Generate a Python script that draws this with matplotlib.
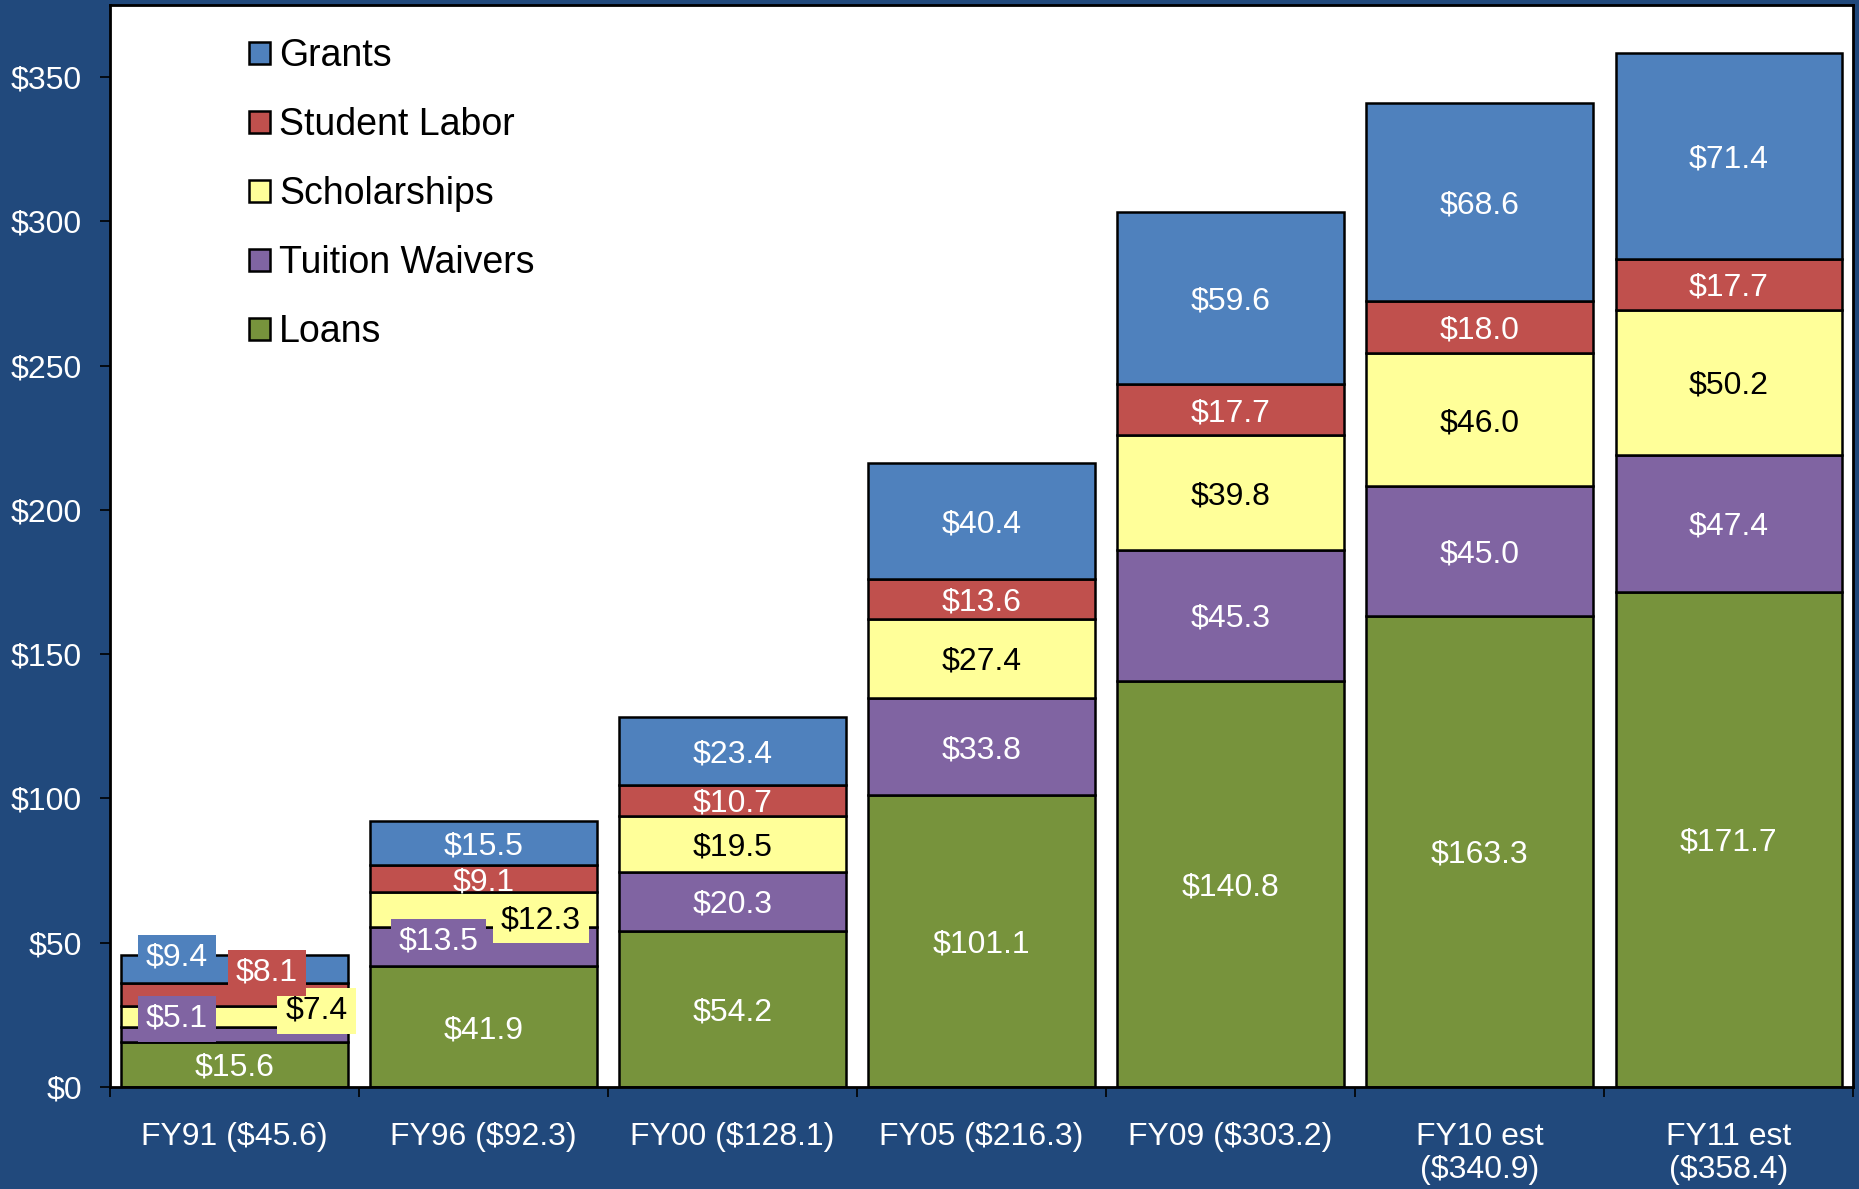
import matplotlib.pyplot as plt
from matplotlib.patches import Patch
import numpy as np

plt.rcParams["font.family"] = ["Liberation Sans", "DejaVu Sans"]

categories = [
    "FY91 ($45.6)",
    "FY96 ($92.3)",
    "FY00 ($128.1)",
    "FY05 ($216.3)",
    "FY09 ($303.2)",
    "FY10 est\n($340.9)",
    "FY11 est\n($358.4)",
]

# stacked from bottom to top
loans = [15.6, 41.9, 54.2, 101.1, 140.8, 163.3, 171.7]
waivers = [5.1, 13.5, 20.3, 33.8, 45.3, 45.0, 47.4]
scholarships = [7.4, 12.3, 19.5, 27.4, 39.8, 46.0, 50.2]
labor = [8.1, 9.1, 10.7, 13.6, 17.7, 18.0, 17.7]
grants = [9.4, 15.5, 23.4, 40.4, 59.6, 68.6, 71.4]

series_names = ["Loans", "Tuition Waivers", "Scholarships", "Student Labor", "Grants"]
series_values = [loans, waivers, scholarships, labor, grants]
series_colors = ["#77933C", "#8064A2", "#FFFF99", "#C0504D", "#4F81BD"]
label_colors = ["white", "white", "black", "white", "white"]

yticks = [0, 50, 100, 150, 200, 250, 300, 350]

BG = "#21497C"
FS = 23

# labels that sit off-centre in a box (small bars): (series, category) -> (dx, y)
moved_labels = {
    (4, 0): (-0.23, 46.0),
    (3, 0): (0.13, 40.8),
    (1, 0): (-0.23, 24.9),
    (2, 0): (0.33, 27.7),
    (1, 1): (-0.18, 51.6),
    (2, 1): (0.23, 59.0),
}


def main():
    fig = plt.figure(figsize=(18.59, 11.89), dpi=100, facecolor=BG)
    ax = fig.add_axes([0.059, 0.0858, 0.938, 0.910])
    ax.set_facecolor("white")

    x = np.arange(len(categories))
    width = 0.91
    bottom = np.zeros(len(categories))
    bars_by_series = []
    for vals, color in zip(series_values, series_colors):
        bars = ax.bar(
            x, vals, width, bottom=bottom, color=color,
            edgecolor="black", linewidth=1.8, zorder=2,
        )
        bars_by_series.append((bars, bottom.copy()))
        bottom += np.array(vals)

    for s, (bars, bots) in enumerate(bars_by_series):
        vals = series_values[s]
        for i, (rect, b, v) in enumerate(zip(bars, bots, vals)):
            key = (s, i)
            if key in moved_labels:
                dx, yy = moved_labels[key]
                ax.text(
                    i + dx, yy, f"${v:.1f}", ha="center", va="center_baseline",
                    fontsize=FS, color=label_colors[s], zorder=5,
                    bbox=dict(boxstyle="square,pad=0.25",
                              facecolor=series_colors[s], edgecolor="none"),
                )
            else:
                t = ax.text(
                    i, b + v / 2, f"${v:.1f}", ha="center", va="center_baseline",
                    fontsize=FS, color=label_colors[s], zorder=4,
                )
                if s == 3 and i == 1:
                    # $9.1 is partly hidden by the scholarship segment below
                    t.set_clip_path(rect)

    ax.set_xlim(-0.5, len(categories) - 0.5)
    ax.set_ylim(0, 375)

    ax.set_yticks(yticks)
    ax.set_yticklabels([f"${v}" for v in yticks])
    ax.tick_params(axis="y", colors="black", labelcolor="white",
                   labelsize=FS, length=7, width=1.2, pad=13)

    ax.set_xticks(np.arange(len(categories) + 1) - 0.5)
    ax.set_xticklabels([])
    ax.set_xticks(x, minor=True)
    ax.set_xticklabels(categories, minor=True, linespacing=1.1)
    ax.tick_params(axis="x", which="major", length=7, width=1.2, color="black")
    ax.tick_params(axis="x", which="minor", length=0, labelcolor="white",
                   labelsize=FS, pad=25.5)
    for lbl in ax.get_xticklabels(minor=True):
        lbl.set_verticalalignment("top")

    for sp in ax.spines.values():
        sp.set_linewidth(2)
        sp.set_color("black")

    handles = [
        Patch(facecolor=c, edgecolor="black", linewidth=1.8, label=n)
        for n, c in zip(series_names, series_colors)
    ]
    ax.legend(
        handles=handles[::-1], loc="upper left", bbox_to_anchor=(0.0715, 0.983),
        frameon=False, fontsize=27, handlelength=0.55, handleheight=0.55,
        handletextpad=0.25, labelspacing=0.88, borderaxespad=0,
    )

    fig.savefig("out.png", dpi=100, facecolor=BG)


if __name__ == "__main__":
    main()
